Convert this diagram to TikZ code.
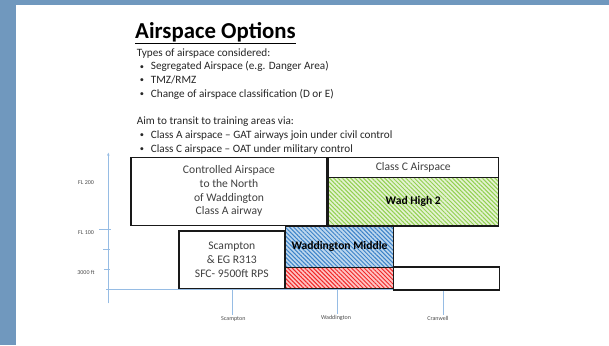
\documentclass[tikz,border=0pt]{standalone}
\usepackage{fontspec}
\setmainfont{Carlito}
\usetikzlibrary{patterns.meta,arrows.meta}

\definecolor{slide}{RGB}{112,152,190}
\definecolor{axisblue}{RGB}{150,188,228}
\definecolor{greenbg}{RGB}{228,242,210}
\definecolor{greenln}{RGB}{146,208,80}
\definecolor{bluebg}{RGB}{189,215,238}
\definecolor{blueln}{RGB}{60,130,200}
\definecolor{redbg}{RGB}{255,195,195}
\definecolor{redln}{RGB}{240,40,40}

\newcommand{\bul}{\makebox[14pt][l]{\hspace{3pt}\raisebox{0.6pt}{\scalebox{0.75}{\textbullet}}}}

\tikzset{
  body/.style={inner sep=0pt, align=left, text=black!85,
    font=\fontsize{11.2}{13.7}\selectfont},
  zone/.style={draw=black!90, line width=1.2pt, inner sep=0pt, align=center,
    text=black!75, font=\fontsize{11.6}{13.7}\selectfont},
  hatched/.style={zone, text=black, font=\fontsize{11.6}{13.7}\selectfont\bfseries,
    pattern={Lines[angle=-45,distance=3pt,line width=1pt]}},
  greenzone/.style={hatched, preaction={fill=greenbg}, pattern color=greenln},
  bluezone/.style={hatched, preaction={fill=bluebg}, pattern color=blueln},
  redzone/.style={hatched, preaction={fill=redbg}, pattern color=redln},
  axisline/.style={draw=axisblue, line width=0.7pt},
  tick/.style={text=black!70, font=\fontsize{6}{7}\selectfont, inner sep=1pt}
}

\begin{document}
\begin{tikzpicture}[x=1pt,y=-1pt]

\useasboundingbox (0,0) rectangle (609,345);
\fill[slide] (0,0) rectangle (609,345);
\fill[white] (16,4.7) rectangle (609,345);

\node[anchor=base west, inner sep=0pt, text=black,
  font=\fontsize{22.8}{26}\selectfont\bfseries] (title) at (135,38.3) {\underline{Airspace Options}};

\node[body, anchor=north west] (types) at (136.7,48.2)
  {Types of airspace considered:\\
   \bul Segregated Airspace (e.g. Danger Area)\\
   \bul TMZ/RMZ\\
   \bul Change of airspace classification (D or E)};

\node[body, anchor=north west] (aim) at (136.7,116.8)
  {Aim to transit to training areas via:\\
   \bul Class A airspace -- GAT airways join under civil control\\
   \bul Class C airspace -- OAT under military control};

\coordinate (origin) at (108.3,289.3);
\coordinate (ytop) at (108.3,152.7);
\coordinate (ybot) at (108.3,303.3);
\coordinate (xleft) at (106,289.3);
\coordinate (xright) at (482,289.3);

\draw[axisline, -{Stealth[length=3pt,width=2.5pt]}] (ybot) -- (ytop);
\draw[axisline] (xleft) -- (xright);

\coordinate (t100) at (108.3,229.3);
\coordinate (tmid) at (108.3,249.3);
\coordinate (t3000) at (108.3,269.3);
\draw[axisline] ([xshift=-9pt]t100) -- ([xshift=3pt]t100);
\draw[axisline] ([xshift=-5pt]tmid) -- ([xshift=2pt]tmid);
\draw[axisline] ([xshift=-4.5pt]t3000) -- ([xshift=2pt]t3000);

\node[tick] (fl200) at (86,182.7) {FL 200};
\node[tick] (fl100) at (86,232.3) {FL 100};
\node[tick] (ft3000) at (86,272.3) {3000 ft};

\node[tick] (scamlbl) at (233.3,319) {Scampton};
\node[tick] (waddlbl) at (336,318) {Waddington};
\node[tick] (cranlbl) at (438,318.3) {Cranwell};

\coordinate (scamx) at (232.7,289.3);
\coordinate (waddx) at (337.3,289.3);
\coordinate (cranx) at (443.3,289.3);
\draw[axisline] (scamx) -- (scamx |- scamlbl.north);
\draw[axisline] (waddx) -- (waddx |- waddlbl.north);
\draw[axisline] (cranx) -- (cranx |- cranlbl.north);

\node[zone, minimum width=196pt, minimum height=68pt] (north) at (229,191.3)
  {Controlled Airspace\\to the North\\of Waddington\\Class A airway};
\node[zone, minimum width=170.5pt, minimum height=20pt] (classc) at (413.25,167.4)
  {Class C Airspace};
\node[greenzone, minimum width=170.5pt, minimum height=48.5pt] (wadhigh) at (413.25,201.75)
  {Wad High 2};
\node[bluezone, minimum width=107.6pt, minimum height=41.3pt] (wadmid) at (339.5,246.65)
  {Waddington Middle};
\node[redzone, minimum width=107.6pt, minimum height=21.4pt] (wadlow) at (339.5,278)
  {};
\node[zone, minimum width=105.7pt, minimum height=57.7pt] (scampton) at (231.85,259.85)
  {Scampton\\\& EG R313\\SFC- 9500ft RPS};
\node[zone, minimum width=106.2pt, minimum height=23pt] (cranwell) at (446.4,278.5)
  {};

\end{tikzpicture}
\end{document}
